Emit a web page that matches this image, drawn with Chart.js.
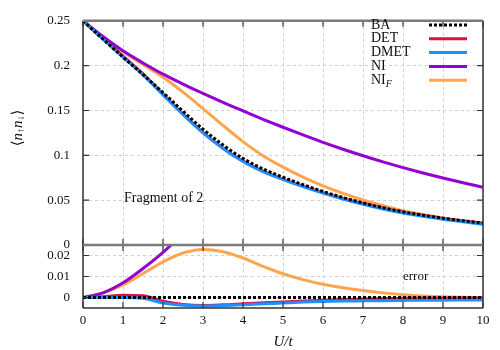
<!DOCTYPE html>
<html>
<head>
<meta charset="utf-8">
<script src="https://cdn.jsdelivr.net/npm/chart.js@4.4.0/dist/chart.umd.min.js"></script>
<style>
    body { margin: 0; background: #fff; }
    #wrap { position: relative; width: 500px; height: 350px; }
    canvas { position: absolute; left: 0; top: 0; }
</style>
</head>
<body>
<div id="wrap">
    <canvas id="topChart" width="500" height="350"></canvas>
    <canvas id="errChart" width="500" height="350"></canvas>
</div>
<script>
const uValues = [0, 0.5, 1, 1.5, 2, 2.5, 3, 3.5, 4, 4.5, 5, 5.5, 6, 6.5, 7, 7.5, 8, 8.5, 9, 9.5, 10];

// double occupancy <n_up n_down>
const baData   = [0.25, 0.2295, 0.2095, 0.1900, 0.1700, 0.1492, 0.1292, 0.1115, 0.0965, 0.0848, 0.0756, 0.0673, 0.0597, 0.0529, 0.0469, 0.0416, 0.0370, 0.0332, 0.0299, 0.0270, 0.0244];
const detData  = [0.25, 0.2298, 0.2106, 0.1908, 0.1682, 0.1459, 0.1254, 0.1080, 0.0935, 0.0823, 0.0735, 0.0656, 0.0584, 0.0519, 0.0462, 0.0411, 0.0366, 0.0329, 0.0296, 0.0268, 0.0242];
const dmetData = [0.25, 0.2295, 0.2095, 0.1896, 0.1674, 0.1455, 0.1252, 0.1077, 0.0931, 0.0818, 0.0730, 0.0651, 0.0578, 0.0512, 0.0453, 0.0401, 0.0356, 0.0319, 0.0286, 0.0258, 0.0232];
const niData   = [0.25, 0.2325, 0.2165, 0.2030, 0.1905, 0.1795, 0.1690, 0.1590, 0.1495, 0.1402, 0.1313, 0.1227, 0.1145, 0.1068, 0.0995, 0.0927, 0.0863, 0.0803, 0.0747, 0.0694, 0.0643];
const nifData  = [0.25, 0.2317, 0.2155, 0.2014, 0.1870, 0.1704, 0.1521, 0.1333, 0.1153, 0.0996, 0.0869, 0.0758, 0.0660, 0.0575, 0.0502, 0.0438, 0.0383, 0.0339, 0.0302, 0.0271, 0.0244];

// errors with respect to BA (lower panel)
const baErr   = [0, 0, 0, 0, 0, 0, 0, 0, 0, 0, 0, 0, 0, 0, 0, 0, 0, 0, 0, 0, 0];
const detErr  = [0, 0.0003, 0.0011, 0.0008, -0.0018, -0.0033, -0.0038, -0.0035, -0.0030, -0.0025, -0.0021, -0.0017, -0.0013, -0.0010, -0.0007, -0.0005, -0.0004, -0.0003, -0.0003, -0.0002, -0.0002];
const dmetErr = [0, 0, 0, -0.0004, -0.0026, -0.0037, -0.0040, -0.0038, -0.0034, -0.0030, -0.0026, -0.0022, -0.0019, -0.0017, -0.0016, -0.0015, -0.0014, -0.0013, -0.0013, -0.0012, -0.0012];
const niErr   = [0, 0.0022, 0.0070, 0.0138, 0.0215, 0.0305, 0.0410, null, null, null, null, null, null, null, null, null, null, null, null, null, null];
const nifErr  = [0, 0.0022, 0.0060, 0.0114, 0.0170, 0.0212, 0.0229, 0.0218, 0.0188, 0.0148, 0.0113, 0.0085, 0.0063, 0.0046, 0.0033, 0.0022, 0.0013, 0.0007, 0.0003, 0.0001, 0];

const xTicks = [0, 1, 2, 3, 4, 5, 6, 7, 8, 9, 10];
const topTicks = [0, 0.05, 0.1, 0.15, 0.2, 0.25];
const errTicks = [0, 0.01, 0.02];

const SERIF = "'Liberation Serif', 'DejaVu Serif', serif";
const AXIS_DARK = '#333';
const AXIS_GRAY = '#7a7a7a';

function pts(arr) {
    return uValues.map((u, i) => ({ x: u, y: arr[i] }));
}

const seriesStyle = [
    { label: 'BA',   color: '#000000', dash: [3, 2], order: 0 },
    { label: 'DET',  color: '#e0103c', dash: [],     order: 2 },
    { label: 'DMET', color: '#1f8fff', dash: [],     order: 1 },
    { label: 'NI',   color: '#9400d3', dash: [],     order: 3 },
    { label: 'NI_F', color: '#ffa54f', dash: [],     order: 4 }
];

function makeDatasets(arrays, clip) {
    return arrays.map((arr, i) => {
        const s = seriesStyle[i];
        const ds = {
            label: s.label,
            data: pts(arr),
            borderColor: s.color,
            borderWidth: 3,
            borderDash: s.dash,
            pointRadius: 0,
            cubicInterpolationMode: 'monotone',
            spanGaps: false,
            order: s.order,
            fill: false
        };
        if (clip !== undefined) ds.clip = clip;
        return ds;
    });
}

function fmt(v) {
    return String(Math.round(v * 1000) / 1000);
}

// draw text with a "_X" subscript part
function drawLabel(ctx, text, x, y, size) {
    const parts = text.split('_');
    ctx.font = size + 'px ' + SERIF;
    ctx.fillText(parts[0], x, y);
    if (parts[1]) {
        const w = ctx.measureText(parts[0]).width;
        ctx.font = 'italic ' + Math.round(size * 0.72) + 'px ' + SERIF;
        ctx.fillText(parts[1], x + w, y + size * 0.3);
    }
}

// frame, inward ticks and free text (gnuplot look)
function framePlugin(kind) {
    return {
        id: 'frame_' + kind,
        afterDraw(chart) {
            const ctx = chart.ctx;
            const a = chart.chartArea;
            const xs = chart.scales.x, ys = chart.scales.y;
            const yt = kind === 'top' ? topTicks : errTicks;
            ctx.save();

            // inward tick marks
            ctx.lineWidth = 1.2;
            ctx.strokeStyle = AXIS_DARK;
            xTicks.forEach(v => {
                const px = xs.getPixelForValue(v);
                ctx.beginPath();
                ctx.moveTo(px, a.top); ctx.lineTo(px, a.top + 6);
                ctx.moveTo(px, a.bottom); ctx.lineTo(px, a.bottom - 6);
                ctx.stroke();
            });
            yt.forEach(v => {
                const py = ys.getPixelForValue(v);
                ctx.beginPath();
                ctx.moveTo(a.left, py); ctx.lineTo(a.left + 6, py);
                ctx.moveTo(a.right, py); ctx.lineTo(a.right - 6, py);
                ctx.stroke();
            });

            // box
            ctx.lineWidth = 1.5;
            ctx.strokeStyle = AXIS_DARK;
            ctx.beginPath();
            ctx.moveTo(a.left, a.top); ctx.lineTo(a.left, a.bottom);
            ctx.moveTo(a.right, a.top); ctx.lineTo(a.right, a.bottom);
            if (kind === 'err') { ctx.moveTo(a.left, a.bottom); ctx.lineTo(a.right, a.bottom); }
            ctx.stroke();
            ctx.lineWidth = 2.5;
            ctx.strokeStyle = AXIS_GRAY;
            ctx.beginPath();
            ctx.moveTo(a.left, a.top); ctx.lineTo(a.right, a.top);
            ctx.stroke();

            ctx.fillStyle = '#111';
            ctx.textBaseline = 'middle';
            if (kind === 'top') {
                // legend
                chart.data.datasets.forEach((ds, i) => {
                    const y = 25 + i * 13.8;
                    ctx.textAlign = 'left';
                    ctx.fillStyle = '#111';
                    drawLabel(ctx, ds.label, 371, y, 14);
                    ctx.strokeStyle = ds.borderColor;
                    ctx.lineWidth = 3;
                    ctx.setLineDash(ds.borderDash);
                    ctx.beginPath();
                    ctx.moveTo(429, y); ctx.lineTo(467, y);
                    ctx.stroke();
                    ctx.setLineDash([]);
                });
                ctx.font = '14px ' + SERIF;
                ctx.textAlign = 'left';
                ctx.fillText('Fragment of 2', 124, 198);

                // y title: <n_up n_down>, rotated
                ctx.translate(18, 128);
                ctx.rotate(-Math.PI / 2);
                const big = '15px ' + SERIF, it = 'italic 15px ' + SERIF, sub = '10px ' + SERIF;
                const pieces = [['\u27E8', big, 0], ['n', it, 0], ['\u2191', sub, 3], ['n', it, 0], ['\u2193', sub, 3], ['\u27E9', big, 0]];
                let total = 0;
                pieces.forEach(p => { ctx.font = p[1]; total += ctx.measureText(p[0]).width; });
                let x = -total / 2;
                pieces.forEach(p => {
                    ctx.font = p[1];
                    ctx.fillText(p[0], x, p[2]);
                    x += ctx.measureText(p[0]).width;
                });
            } else {
                ctx.font = '13px ' + SERIF;
                ctx.textAlign = 'left';
                ctx.fillText('error', 403, 277);
                ctx.font = 'italic 15px ' + SERIF;
                ctx.textAlign = 'center';
                ctx.fillText('U/t', 283, 342);
            }
            ctx.restore();
        }
    };
}

function scaleOpts(ticks, showLabels, min, max, extra) {
    return Object.assign({
        type: 'linear',
        min: min,
        max: max,
        afterBuildTicks: s => { s.ticks = ticks.map(v => ({ value: v })); },
        grid: { color: '#cfcfcf', lineWidth: 1, drawTicks: false },
        border: { display: false, dash: [3, 3] },
        ticks: {
            display: showLabels,
            color: '#111',
            font: { family: SERIF, size: 13 },
            callback: v => fmt(v)
        }
    }, extra || {});
}

const topChart = new Chart(document.getElementById('topChart'), {
    type: 'line',
    data: { datasets: makeDatasets([baData, detData, dmetData, niData, nifData]) },
    options: {
        responsive: false,
        animation: false,
        layout: { padding: { top: 14, right: 17, bottom: 105, left: 0 } },
        plugins: { legend: { display: false }, tooltip: { enabled: false } },
        scales: {
            x: scaleOpts(xTicks, false, 0, 10, { afterFit: s => { s.height = 0; } }),
            y: scaleOpts(topTicks, true, 0, 0.25, { afterFit: s => { s.width = 83; }, ticks: {
                display: true, color: '#111', padding: 13,
                font: { family: SERIF, size: 13 }, callback: v => fmt(v)
            } })
        }
    },
    plugins: [framePlugin('top')]
});

const errChart = new Chart(document.getElementById('errChart'), {
    type: 'line',
    data: { datasets: makeDatasets([baErr, detErr, dmetErr, niErr, nifErr], 0) },
    options: {
        responsive: false,
        animation: false,
        layout: { padding: { top: 245, right: 17, bottom: 0, left: 0 } },
        plugins: { legend: { display: false }, tooltip: { enabled: false } },
        scales: {
            x: scaleOpts(xTicks, true, 0, 10, { afterFit: s => { s.height = 42; }, ticks: {
                display: true, color: '#111', padding: 5, maxRotation: 0,
                font: { family: SERIF, size: 13 }, callback: v => fmt(v)
            } }),
            y: scaleOpts(errTicks, true, -0.005, 0.025, { afterFit: s => { s.width = 83; }, ticks: {
                display: true, color: '#111', padding: 13,
                font: { family: SERIF, size: 13 }, callback: v => fmt(v)
            } })
        }
    },
    plugins: [framePlugin('err')]
});
</script>
</body>
</html>
